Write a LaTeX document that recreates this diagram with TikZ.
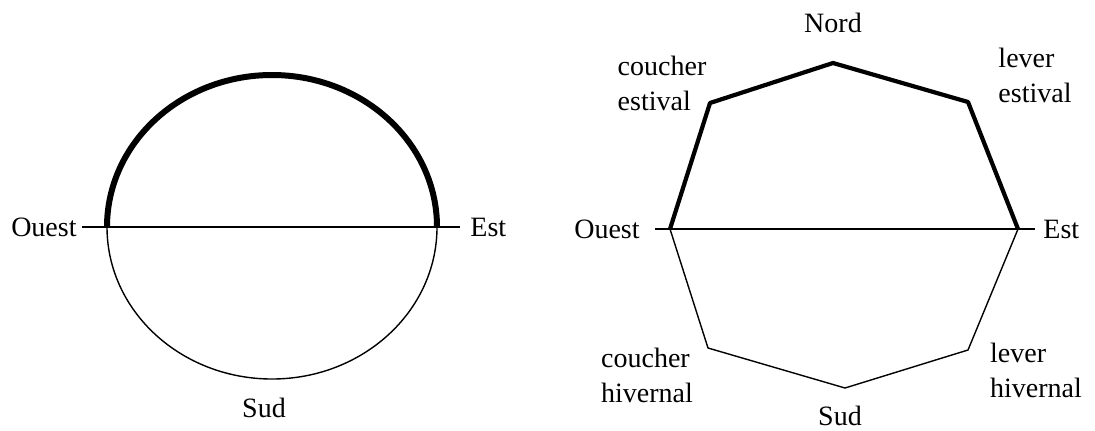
\documentclass[tikz,border=0pt]{standalone}
\usepackage{fontspec}
\setmainfont{Liberation Serif}
\usetikzlibrary{positioning}

\begin{document}
\begin{tikzpicture}[x=0.5pt, y=0.5pt,
  etiquette/.style={font=\fontsize{14}{17.5}\selectfont, align=left, inner sep=0pt},
  fin/.style={line width=0.7pt},
  epais/.style={line width=3pt},
  course/.style={line width=2.1pt, line join=round}]
  \useasboundingbox (0,0) rectangle (1095,430);
  % cadran de gauche
  \coordinate (ouest1) at (107,203);
  \coordinate (est1) at (437,203);
  \coordinate (hg1) at (82,203);
  \coordinate (hd1) at (460,203);
  \draw[fin] (hg1) -- (hd1);
  \draw[epais] (ouest1) arc[start angle=180, end angle=0, x radius=165, y radius=152];
  \draw[fin] (ouest1) arc[start angle=180, end angle=360, x radius=165, y radius=152];
  \node[etiquette, left=2.5pt of hg1] (louest1) {Ouest};
  \node[etiquette, right=5pt of hd1] (lest1) {Est};
  \node[etiquette] (lsud1) at (264,22) {Sud};
  % cadran de droite
  \coordinate (ouest2) at (670,201);
  \coordinate (ce) at (710,327);
  \coordinate (nord) at (833,367);
  \coordinate (le) at (968,328);
  \coordinate (est2) at (1018,201);
  \coordinate (lh) at (968,80);
  \coordinate (sud) at (845,42);
  \coordinate (ch) at (708,82);
  \coordinate (hg2) at (655,201);
  \coordinate (hd2) at (1035,201);
  \draw[fin] (hg2) -- (hd2);
  \draw[course] (ouest2) -- (ce) -- (nord) -- (le) -- (est2);
  \draw[fin] (ouest2) -- (ch) -- (sud) -- (lh) -- (est2);
  \node[etiquette, above=15pt of nord] (lnord) {Nord};
  \node[etiquette, left=7.5pt of hg2] (louest2) {Ouest};
  \node[etiquette, right=4pt of hd2] (lest2) {Est};
  \node[etiquette] (lce) at (662,347) {coucher\\estival};
  \node[etiquette] (lle) at (1035,355) {lever\\estival};
  \node[etiquette] (lch) at (647,55) {coucher\\hivernal};
  \node[etiquette] (llh) at (1036,60) {lever\\hivernal};
  \node[etiquette] (lsud2) at (840,14) {Sud};
\end{tikzpicture}
\end{document}
